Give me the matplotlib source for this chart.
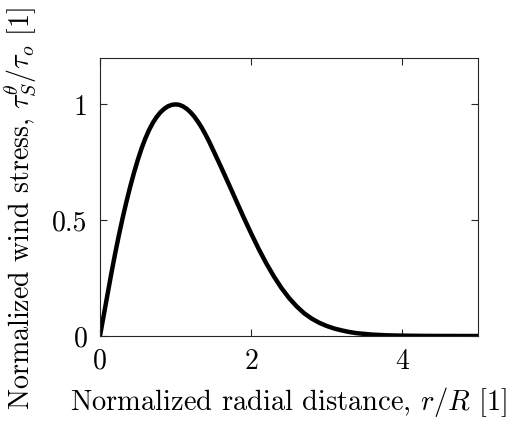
import numpy as np
import matplotlib
matplotlib.use("Agg")
import matplotlib.pyplot as plt

plt.rcParams['font.family'] = 'serif'
plt.rcParams['font.serif'] = ['cmr10']
plt.rcParams['mathtext.fontset'] = 'cm'
plt.rcParams['axes.formatter.use_mathtext'] = True

# normalized radial distance r/R and normalized wind stress
r = [0.0, 0.05, 0.1, 0.15, 0.2, 0.25, 0.3, 0.35, 0.4, 0.45, 0.5,
     0.55, 0.6, 0.65, 0.7, 0.75, 0.8, 0.85, 0.9, 0.95, 1.0,
     1.05, 1.1, 1.15, 1.2, 1.25, 1.3, 1.35, 1.4, 1.45, 1.5,
     1.6, 1.7, 1.8, 1.9, 2.0, 2.1, 2.2, 2.3, 2.4, 2.5,
     2.6, 2.7, 2.8, 2.9, 3.0, 3.1, 3.2, 3.3, 3.4, 3.6,
     3.8, 4.0, 4.25, 4.5, 5.0]
tau = [0.0, 0.09, 0.18, 0.27, 0.355, 0.435, 0.51, 0.58, 0.645, 0.705, 0.76,
       0.81, 0.853, 0.89, 0.921, 0.946, 0.966, 0.981, 0.992, 0.998, 1.0,
       0.998, 0.991, 0.98, 0.965, 0.946, 0.923, 0.897, 0.867, 0.835, 0.8,
       0.73, 0.658, 0.585, 0.512, 0.442, 0.375, 0.313, 0.257, 0.207, 0.164,
       0.128, 0.098, 0.075, 0.057, 0.043, 0.032, 0.024, 0.017, 0.012, 0.006,
       0.003, 0.0015, 0.0006, 0.0002, 0.0]

xticks = [0, 2, 4]
yticks = [0, 0.5, 1]
yticklabels = ['0', '0.5', '1']

fig = plt.figure(figsize=(5.18, 4.30), dpi=100)
ax = fig.add_axes([0.193, 0.2186, 0.730, 0.6464])
ax.plot(r, tau, color='k', linewidth=3.2, solid_joinstyle='round')

ax.set_xlim(0, 5)
ax.set_ylim(0, 1.2)
ax.set_xticks(xticks)
ax.set_xticklabels([str(t) for t in xticks])
ax.set_yticks(yticks)
ax.set_yticklabels(yticklabels)
ax.tick_params(direction='in', top=True, right=True, length=5, width=0.8,
               color='#262626', labelsize=20, pad=9)
for s in ax.spines.values():
    s.set_color('#262626')
    s.set_linewidth(0.8)

ax.set_xlabel(r'Normalized radial distance, $r/R$ [1]', fontsize=20.5)
ax.xaxis.set_label_coords(0.5, -0.178)
ax.set_ylabel(r'Normalized wind stress, $\tau_S^\theta/\tau_o$ [1]', fontsize=20.2)
ax.yaxis.set_label_coords(-0.16, 0.46)

fig.savefig('out.png', dpi=100, facecolor='white')
